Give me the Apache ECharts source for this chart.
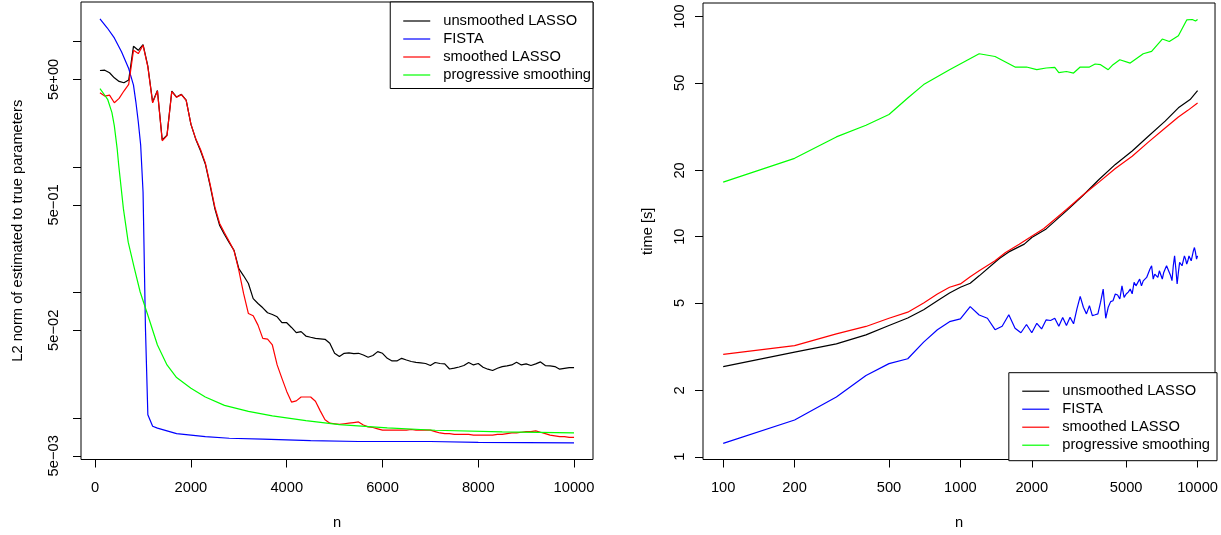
<!DOCTYPE html>
<html>
<head>
<meta charset="utf-8">
<script src="https://cdn.jsdelivr.net/npm/echarts@6/dist/echarts.min.js"></script>
<style>
html,body{margin:0;padding:0;background:#fff;}
#chart{width:1221px;height:535px;}
</style>
</head>
<body>
<div id="chart"></div>
<script>
// sample sizes used for both panels
var nGrid = [100,200,300,400,500,600,700,800,900,1000,
  1100,1200,1300,1400,1500,1600,1700,1800,1900,2000,
  2100,2200,2300,2400,2500,2600,2700,2800,2900,3000,
  3100,3200,3300,3400,3500,3600,3700,3800,3900,4000,
  4100,4200,4300,4400,4500,4600,4700,4800,4900,5000,
  5100,5200,5300,5400,5500,5600,5700,5800,5900,6000,
  6100,6200,6300,6400,6500,6600,6700,6800,6900,7000,
  7100,7200,7300,7400,7500,7600,7700,7800,7900,8000,
  8100,8200,8300,8400,8500,8600,8700,8800,8900,9000,
  9100,9200,9300,9400,9500,9600,9700,9800,9900,10000];

// left panel: L2 norm of estimated to true parameters
var errUnsmoothed = [5.89,5.92,5.65,5.15,4.82,4.70,4.94,9.18,8.53,9.46,
  6.37,3.30,4.08,1.65,1.80,4.04,3.62,3.80,3.42,2.19,
  1.67,1.35,1.06,0.711,0.464,0.342,0.29,0.25,0.217,0.155,
  0.136,0.118,0.0895,0.0818,0.0756,0.069,0.0668,0.0641,0.0575,0.0575,
  0.0527,0.0479,0.0488,0.045,0.044,0.0431,0.0428,0.0424,0.0394,0.0328,
  0.0309,0.0328,0.033,0.0326,0.0328,0.0318,0.0305,0.0315,0.0338,0.0328,
  0.0299,0.0285,0.0285,0.0299,0.029,0.0282,0.0278,0.0275,0.0272,0.0262,
  0.0277,0.0272,0.027,0.0246,0.025,0.0255,0.0262,0.0277,0.0265,0.0272,
  0.0254,0.0245,0.0239,0.0249,0.0257,0.026,0.0265,0.0278,0.0265,0.027,
  0.0262,0.027,0.028,0.0262,0.026,0.0257,0.0245,0.0249,0.0252,0.0252];
var errSmoothed = [3.92,3.68,3.75,3.26,3.53,4.04,4.56,8.53,8.03,9.35,
  6.30,3.25,4.05,1.62,1.78,4.00,3.60,3.78,3.40,2.20,
  1.68,1.38,1.08,0.73,0.48,0.355,0.30,0.255,0.215,0.150,
  0.098,0.068,0.0653,0.055,0.0431,0.0426,0.0382,0.0265,0.0207,0.0163,
  0.0134,0.0137,0.0147,0.0147,0.0147,0.0136,0.0114,0.0097,0.0091,0.0090,
  0.0089,0.0090,0.0091,0.0092,0.0093,0.0088,0.0085,0.0084,0.0082,0.0080,
  0.0080,0.0080,0.0080,0.0080,0.0080,0.0081,0.0080,0.0080,0.0080,0.0080,
  0.0078,0.0076,0.0075,0.0075,0.0074,0.0074,0.0074,0.0074,0.0073,0.0073,
  0.0073,0.0073,0.0073,0.0074,0.0074,0.0075,0.0076,0.0076,0.0077,0.0078,
  0.0078,0.0079,0.0077,0.0075,0.0073,0.0072,0.0071,0.0071,0.0070,0.0070];
var errFistaN = [100,250,400,550,700,800,850,900,950,1000,1050,1100,1200,1300,1500,1700,2000,2300,2800,3500,4500,5500,7000,8000,10000];
var errFista = [15.2,12.9,10.7,8.3,6.1,4.5,3.3,2.3,1.5,0.63,0.052,0.0106,0.0086,0.0083,0.0079,0.0075,0.0073,0.0071,0.0069,0.0068,0.0066,0.0065,0.0065,0.0064,0.00634];
var errProgN = [100,190,260,350,400,460,490,590,690,820,940,1100,1300,1500,1700,2000,2300,2700,3200,3700,4400,5100,6100,7100,8500,10000];
var errProg = [4.22,3.79,3.47,2.72,2.13,1.39,1.05,0.464,0.252,0.155,0.101,0.066,0.0382,0.0265,0.021,0.0173,0.0147,0.0126,0.0113,0.0104,0.00952,0.00885,0.00834,0.00799,0.00775,0.0076];

// right panel: time [s]
var timeUnsmoothedN = [100,200,300,400,500,600,700,800,900,1000,1100,1200,1460,1600,1860,2000,2300,2800,3270,3840,4500,5300,6200,7300,8300,9300,10000];
var timeUnsmoothed = [2.57,2.99,3.26,3.58,3.95,4.27,4.66,5.12,5.55,5.89,6.14,6.64,7.96,8.53,9.25,9.91,10.85,13.1,15.3,18.2,21.3,24.5,28.6,33.5,38.5,42,46.1];
var timeSmoothedN = [100,200,300,400,500,600,700,800,900,1000,1100,1200,1400,1550,1770,1960,2250,2800,3270,3840,4500,5300,6200,7300,8300,9100,10000];
var timeSmoothed = [2.92,3.20,3.62,3.91,4.26,4.54,5.0,5.49,5.89,6.10,6.58,7.0,7.77,8.48,9.25,9.91,10.9,13.3,15.4,17.7,20.4,23.2,26.9,31.2,35.0,37.5,40.5];
var timeFista = [1.15,1.47,1.87,2.34,2.65,2.79,3.32,3.78,4.11,4.23,
  4.81,4.41,4.26,3.78,3.92,4.42,3.84,3.66,3.99,3.66,
  4.04,3.81,4.19,4.16,4.26,3.92,4.29,3.95,4.30,4.02,
  4.70,5.36,4.78,4.46,4.86,4.38,4.42,4.46,5.04,5.78,
  4.26,4.78,5.07,5.12,5.49,5.43,5.21,5.98,5.30,5.49,
  5.60,5.78,5.50,6.21,5.98,6.10,6.42,5.98,6.30,6.21,
  6.53,6.64,7.13,7.38,6.42,6.76,6.88,6.53,7.00,7.13,
  6.42,6.88,7.13,7.38,7.25,6.88,6.64,6.31,7.38,8.18,
  7.13,6.10,6.88,7.64,7.51,7.38,7.77,8.18,7.91,7.51,
  7.77,8.18,8.33,7.77,8.18,8.62,8.93,8.48,7.91,8.18];
var timeProgN = [100,200,300,400,500,600,700,900,1200,1400,1700,1900,2100,2300,2500,2600,2800,3000,3200,3500,3700,3900,4200,4400,4700,5200,5900,6400,7100,7600,8300,9000,9500,9800,10000];
var timeProg = [17.7,22.7,28.4,32.1,35.9,42.7,49.1,57.4,67.8,65.9,59.0,59.0,57.4,58.4,58.8,55.7,56.3,55.4,59.0,59.0,60.9,60.5,57.4,60.5,63.7,61.5,67.8,69.5,79.1,77.1,81.8,96.6,97,95.5,97];

var seriesNames = ['unsmoothed LASSO','FISTA','smoothed LASSO','progressive smoothing'];
var seriesColors = ['#000000','#0000ff','#ff0000','#00ff00'];

var leftXTicks = [0,2000,4000,6000,8000,10000];
var leftYTicks = [10,5,1,0.5,0.1,0.05,0.01,0.005];
var leftYLabels = [5,0.5,0.05,0.005];
var rightXTicks = [100,200,500,1000,2000,5000,10000];
var rightYTicks = [1,2,5,10,20,50,100];

var FONT = 'Liberation Sans';
var FS = 14.7;

function pairs(xs, ys){
  var out = [];
  for (var i = 0; i < xs.length; i++) out.push([xs[i], ys[i]]);
  return out;
}

function sciLabel(v){
  var e = Math.round(Math.log10(v / 5));
  var s = String(Math.abs(e));
  if (s.length < 2) s = '0' + s;
  return '5e' + (e < 0 ? '\u2212' : '+') + s;
}

function plainLabel(v){
  return String(Math.round(v));
}

function axisBase(extra){
  var a = {
    axisLine: {show: false, onZero: false},
    splitLine: {show: false},
    axisTick: {show: true, inside: false, length: 8, lineStyle: {color: '#000', width: 1}},
    axisLabel: {color: '#000', fontSize: FS, fontFamily: FONT},
    nameLocation: 'middle',
    nameTextStyle: {color: '#000', fontSize: FS, fontFamily: FONT}
  };
  for (var k in extra) {
    if (typeof extra[k] === 'object' && a[k] && !Array.isArray(extra[k])) {
      for (var j in extra[k]) a[k][j] = extra[k][j];
    } else {
      a[k] = extra[k];
    }
  }
  return a;
}

function line(name, xi, data){
  var idx = seriesNames.indexOf(name);
  return {
    name: name, type: 'line', xAxisIndex: xi, yAxisIndex: xi,
    data: data, symbol: 'none', smooth: false,
    lineStyle: {color: seriesColors[idx], width: 1.2},
    itemStyle: {color: seriesColors[idx]}
  };
}

function legendBox(pos, pad){
  var l = {
    orient: 'vertical', data: seriesNames, selectedMode: false,
    icon: 'rect', itemWidth: 27, itemHeight: 1.2, itemGap: 3,
    padding: pad, borderColor: '#000', borderWidth: 1, borderRadius: 0,
    backgroundColor: '#fff',
    textStyle: {color: '#000', fontSize: FS, fontFamily: FONT, padding: [0, 0, 0, 8]}
  };
  for (var k in pos) l[k] = pos[k];
  return l;
}

var chart = echarts.init(document.getElementById('chart'));
chart.setOption({
  animation: false,
  backgroundColor: '#fff',
  grid: [
    {left: 81, top: 2, width: 512, height: 460, show: true, borderColor: '#000', borderWidth: 1, containLabel: false},
    {left: 703, top: 3, width: 514, height: 458, show: true, borderColor: '#000', borderWidth: 1, containLabel: false}
  ],
  legend: [
    legendBox({right: 628, top: 2}, [11.5, 2, 6, 13]),
    legendBox({right: 4, bottom: 74.3}, [11, 7, 8, 13.4])
  ],
  xAxis: [
    axisBase({type: 'value', gridIndex: 0, min: -296, max: 10396, name: 'n', nameGap: 55.5,
      axisTick: {customValues: leftXTicks},
      axisLabel: {customValues: leftXTicks, margin: 20.5, formatter: plainLabel}}),
    axisBase({type: 'log', logBase: 10, gridIndex: 1, min: 82.2, max: 11845, name: 'n', nameGap: 55.5,
      axisTick: {customValues: rightXTicks},
      axisLabel: {customValues: rightXTicks, margin: 20.5, formatter: plainLabel}})
  ],
  yAxis: [
    axisBase({type: 'log', logBase: 10, gridIndex: 0, min: 0.00467, max: 20.7,
      name: 'L2 norm of estimated to true parameters', nameGap: 56,
      axisTick: {customValues: leftYTicks},
      axisLabel: {customValues: leftYLabels, rotate: 90, margin: 19.5, formatter: sciLabel}}),
    axisBase({type: 'log', logBase: 10, gridIndex: 1, min: 0.972, max: 115.3,
      name: 'time [s]', nameGap: 48,
      axisTick: {customValues: rightYTicks},
      axisLabel: {customValues: rightYTicks, rotate: 90, margin: 16, formatter: plainLabel}})
  ],
  series: [
    line('unsmoothed LASSO', 0, pairs(nGrid, errUnsmoothed)),
    line('FISTA', 0, pairs(errFistaN, errFista)),
    line('smoothed LASSO', 0, pairs(nGrid, errSmoothed)),
    line('progressive smoothing', 0, pairs(errProgN, errProg)),
    line('unsmoothed LASSO', 1, pairs(timeUnsmoothedN, timeUnsmoothed)),
    line('FISTA', 1, pairs(nGrid, timeFista)),
    line('smoothed LASSO', 1, pairs(timeSmoothedN, timeSmoothed)),
    line('progressive smoothing', 1, pairs(timeProgN, timeProg))
  ]
});
</script>
</body>
</html>
